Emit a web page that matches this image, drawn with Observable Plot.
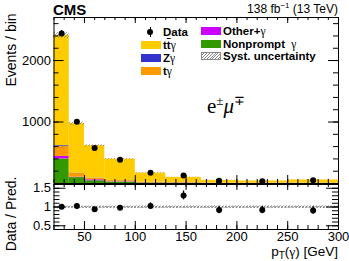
<!DOCTYPE html>
<html><head><meta charset="utf-8">
<script src="https://cdn.jsdelivr.net/npm/d3@7"></script>
<script src="https://cdn.jsdelivr.net/npm/@observablehq/plot@0.6"></script>
<style>
body{margin:0;background:#fff;}
#c{position:relative;width:349px;height:261px;font-family:"Liberation Sans",Arial,sans-serif;color:#000;overflow:hidden;background:#fff}
#c svg{position:absolute;left:0;overflow:visible}
.t{position:absolute;white-space:nowrap;line-height:1}
.g{font-family:"Liberation Serif",serif;font-weight:normal}
.leg{position:absolute;height:10px;line-height:10px;font-size:11.5px;font-weight:bold;white-space:nowrap}
.box{position:absolute;width:20px;height:8px}
</style></head><body><div id="c"></div>
<script>
// ---- data ----
const binLo = [20, 35, 50, 70, 100, 130, 165, 200, 250];
const binHi = [35, 50, 70, 100, 130, 165, 200, 250, 300];
const ttgamma    = [1795, 808, 527, 348, 150, 86, 43.5, 35.5, 50.5];
const zgamma     = [15, 5, 3, 2, 1, 1, 0.5, 0.5, 0.5];
const tgamma     = [160, 60, 25, 18, 8, 5, 3, 2, 3];
const otherGamma = [40, 7, 15, 5, 3, 2, 1, 1, 1];
const nonprompt  = [400, 95, 45, 22, 8, 5, 2, 2, 2];
const dataCounts = [2440, 1005, 578, 387, 175, 130, 46, 38, 52];
const dataErr    = [49, 32, 24, 20, 13, 11, 7, 6, 7];
const ratioVals  = [1.01, 1.03, 0.94, 0.98, 1.03, 1.31, 0.92, 0.92, 0.91];
const ratioErr   = [0.02, 0.033, 0.042, 0.052, 0.08, 0.12, 0.1, 0.1, 0.1];
const systRel    = [0.02, 0.025, 0.025, 0.025, 0.03, 0.03, 0.03, 0.03, 0.03];
const xMajor = [50, 100, 150, 200, 250, 300];
const xMinor = d3.range(20, 301, 10);
const yMajorTop = [1000, 2000];
const yMinorTop = d3.range(200, 2700, 200);
const yMajorRatio = [0.5, 1, 1.5];
const yMinorRatio = d3.range(0.4, 1.61, 0.1);

const comps = [
  {name: "Nonprompt", values: nonprompt, color: "#339900"},
  {name: "Other", values: otherGamma, color: "#cc00ff"},
  {name: "tg", values: tgamma, color: "#ff9900"},
  {name: "Zg", values: zgamma, color: "#3333cc"},
  {name: "ttg", values: ttgamma, color: "#ffcc00"}
];
const stackRows = [];
comps.forEach(c => binLo.forEach((lo, i) => stackRows.push({lo, hi: binHi[i], v: c.values[i], color: c.color})));
const bins = binLo.map((lo, i) => {
  const pred = comps.reduce((s, c) => s + c.values[i], 0);
  return {lo, hi: binHi[i], c: (lo + binHi[i]) / 2, pred, syst: systRel[i],
          n: dataCounts[i], e: dataErr[i], r: ratioVals[i], re: ratioErr[i]};
});

const W = 349, mL = 53.5, mR = 11;
const fw = W - mL - mR;
const style = {fontFamily: "Liberation Sans, Arial, sans-serif", fontSize: "13px", color: "black", background: "transparent", overflow: "visible"};

// ---- top panel ----
const topH = 184, topMT = 17, topMB = 1, fhT = topH - topMT - topMB;
const topPlot = Plot.plot({
  width: W, height: topH, marginTop: topMT, marginBottom: topMB, marginLeft: mL, marginRight: mR,
  x: {domain: [20, 300], axis: null},
  y: {domain: [0, 2700]},
  style,
  marks: [
    Plot.rectY(stackRows, {x1: "lo", x2: "hi", y: "v", fill: "color"}),
    Plot.rect(bins, {x1: "lo", x2: "hi", y1: d => d.pred * (1 - d.syst), y2: d => d.pred * (1 + d.syst), fill: "url(#hatchT)"}),
    Plot.ruleX(bins, {x: "c", y1: d => d.n - d.e, y2: d => d.n + d.e, stroke: "black", strokeWidth: 1.3}),
    Plot.dot(bins, {x: "c", y: "n", r: 3, fill: "black", stroke: "none"}),
    Plot.tickY(yMajorTop, {y: d => d, stroke: "black", insetRight: fw - 10}),
    Plot.tickY(yMinorTop, {y: d => d, stroke: "black", insetRight: fw - 5}),
    Plot.tickY(yMajorTop, {y: d => d, stroke: "black", insetLeft: fw - 10}),
    Plot.tickY(yMinorTop, {y: d => d, stroke: "black", insetLeft: fw - 5}),
    Plot.tickX(xMajor, {x: d => d, stroke: "black", insetTop: fhT - 8}),
    Plot.tickX(xMinor, {x: d => d, stroke: "black", insetTop: fhT - 4}),
    Plot.tickX(xMajor, {x: d => d, stroke: "black", insetBottom: fhT - 6}),
    Plot.tickX(xMinor, {x: d => d, stroke: "black", insetBottom: fhT - 3}),
    Plot.axisY({ticks: yMajorTop, tickSize: 0, tickPadding: 3, label: null, tickFormat: d => String(d)}),
    Plot.frame({stroke: "black"})
  ]
});

// ---- ratio panel ----
const rH = 78, rMT = 1, rMB = 32, fhR = rH - rMT - rMB;
const ratioPlot = Plot.plot({
  width: W, height: rH, marginTop: rMT, marginBottom: rMB, marginLeft: mL, marginRight: mR,
  x: {domain: [20, 300]},
  y: {domain: [0.4, 1.6]},
  style,
  marks: [
    Plot.rect(bins, {x1: "lo", x2: "hi", y1: d => 1 - d.syst, y2: d => 1 + d.syst, fill: "url(#hatchR)"}),
    Plot.ruleY([1], {stroke: "#555", strokeDasharray: "2,1.5"}),
    Plot.ruleX(bins, {x: "c", y1: d => d.r - d.re, y2: d => d.r + d.re, stroke: "black", strokeWidth: 1.3}),
    Plot.dot(bins, {x: "c", y: "r", r: 3, fill: "black", stroke: "none"}),
    Plot.tickY(yMajorRatio, {y: d => d, stroke: "black", insetRight: fw - 12}),
    Plot.tickY(yMinorRatio, {y: d => d, stroke: "black", insetRight: fw - 6}),
    Plot.tickY(yMajorRatio, {y: d => d, stroke: "black", insetLeft: fw - 12}),
    Plot.tickY(yMinorRatio, {y: d => d, stroke: "black", insetLeft: fw - 6}),
    Plot.tickX(xMajor, {x: d => d, stroke: "black", insetTop: fhR - 8}),
    Plot.tickX(xMinor, {x: d => d, stroke: "black", insetTop: fhR - 4}),
    Plot.tickX(xMajor, {x: d => d, stroke: "black", insetBottom: fhR - 6}),
    Plot.tickX(xMinor, {x: d => d, stroke: "black", insetBottom: fhR - 3}),
    Plot.axisY({ticks: yMajorRatio, tickSize: 0, tickPadding: 3, label: null, tickFormat: d => String(d)}),
    Plot.axisX({ticks: xMajor, tickSize: 0, tickPadding: 2, label: null}),
    Plot.frame({stroke: "black"})
  ]
});

const hatch = id => `<defs><pattern id="${id}" patternUnits="userSpaceOnUse" width="3" height="3">
<path d="M-1,1 l2,-2 M0,3 l3,-3 M2,4 l2,-2" stroke="#777" stroke-width="0.7"/></pattern></defs>`;
topPlot.insertAdjacentHTML("afterbegin", hatch("hatchT"));
ratioPlot.insertAdjacentHTML("afterbegin", hatch("hatchR"));

const c = document.getElementById("c");
topPlot.style.top = "0px";
ratioPlot.style.top = "183px";
c.appendChild(topPlot);
c.appendChild(ratioPlot);

// ---- texts & legend ----
const add = (html, css, cls = "t") => {
  const d = document.createElement("div");
  d.className = cls; d.innerHTML = html; d.style.cssText = css; c.appendChild(d); return d;
};
add("CMS", "left:53px;top:2px;font-size:15px;font-weight:bold;");
add('138 fb<sup style="font-size:8px;vertical-align:5px;line-height:0">−1</sup> (13 TeV)', "right:11px;top:3px;font-size:12px;");
add("Events / bin", "left:11px;top:50px;font-size:14px;transform:translate(-50%,-50%) rotate(-90deg);");
add("Data / Pred.", "left:11px;top:214px;font-size:14px;transform:translate(-50%,-50%) rotate(-90deg);");
add('p<sub style="font-size:10px;vertical-align:-3px;line-height:0">T</sub>(<span class="g">γ</span>) [GeV]', "right:11px;top:246px;font-size:13.5px;line-height:12px;");
add('e<sup style="font-size:13px;vertical-align:8px;line-height:0">±</sup><i>μ</i><sup style="font-size:13px;vertical-align:8px;line-height:0">∓</sup>',
    "left:207px;top:96px;font-size:21px;font-family:'Liberation Serif',serif;");

// legend
const markerHTML = '<div style="position:absolute;left:-13.5px;top:0px;width:1.3px;height:10px;background:#000"></div><div style="position:absolute;left:-16px;top:2px;width:6px;height:6px;border-radius:50%;background:#000"></div>';
add(markerHTML + "Data", "left:163px;top:27px;", "leg");
const legItems = [
  {x: 141, y: 45, color: "#ffcc00", label: 't<span style="text-decoration:overline">t</span><span class="g">γ</span>'},
  {x: 141, y: 58, color: "#3333cc", label: 'Z<span class="g">γ</span>'},
  {x: 141, y: 71, color: "#ff9900", label: 't<span class="g">γ</span>'},
  {x: 201, y: 31, color: "#cc00ff", label: 'Other+<span class="g">γ</span>'},
  {x: 201, y: 43.5, color: "#339900", label: 'Nonprompt&nbsp;&nbsp;<span class="g">γ</span>'},
  {x: 201, y: 56, color: null, label: 'Syst. uncertainty'}
];
legItems.forEach(it => {
  const bg = it.color ? `background:${it.color};` :
    "background:repeating-linear-gradient(135deg,#fff 0 1.3px,#888 1.3px 2px);border:1px solid #888;box-sizing:border-box;";
  add("", `left:${it.x}px;top:${it.y - 4}px;${bg}`, "box");
  add(it.label, `left:${it.x + 22}px;top:${it.y - 5}px;`, "leg");
});
</script></body></html>
